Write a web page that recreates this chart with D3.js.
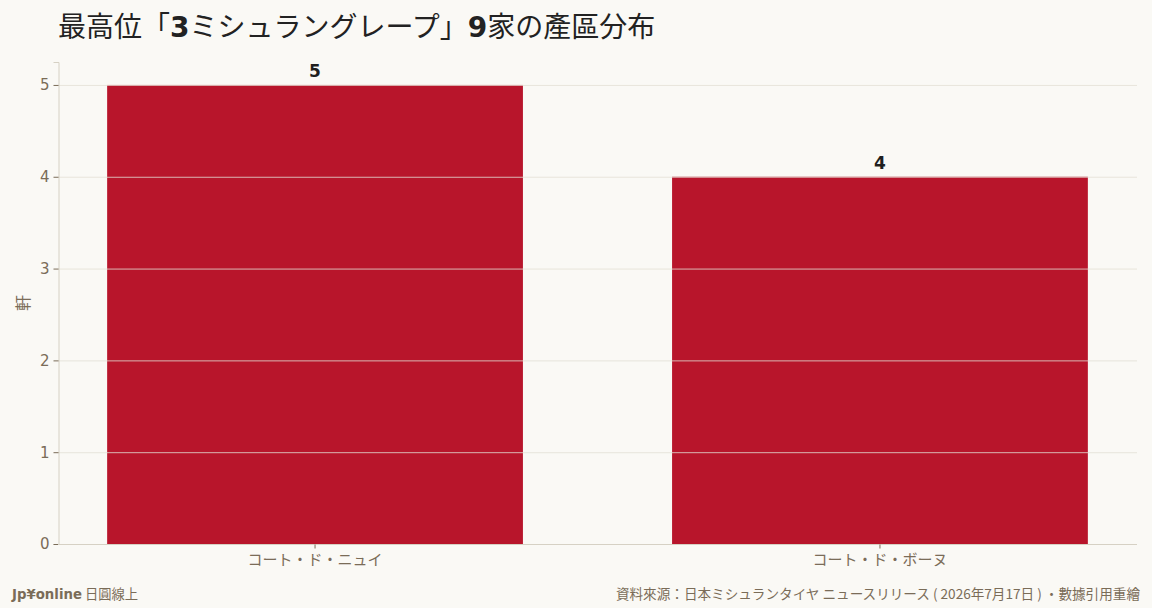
<!DOCTYPE html>
<html><head><meta charset="utf-8">
<script src="https://cdn.jsdelivr.net/npm/d3@7"></script>
<style>
html,body{margin:0;padding:0;background:#faf9f5;}
svg{display:block;font-family:"DejaVu Sans","Noto Sans CJK JP",sans-serif;}
</style></head>
<body>
<svg id="c" width="1152" height="608"></svg>
<script>
const categories = ["コート・ド・ニュイ", "コート・ド・ボーヌ"];
const values = [5, 4];
const yTicks = [0, 1, 2, 3, 4, 5];
const titleParts = [["最高位「", false], ["3", true], ["ミシュラングレープ」", false], ["9", true], ["家の產區分布", false]];
const yLabel = "軒";
const footLeftBold = "Jp¥online";
const footLeft = " 日圓線上";
const footRight = "資料來源：日本ミシュランタイヤ ニュースリリース ( 2026年7月17日 ) ・數據引用重繪";

const W = 1152, H = 608;
const m = {l: 58, r: 15, t: 62, b: 64};
const svg = d3.select("#c");
svg.append("rect").attr("width", W).attr("height", H).attr("fill", "#faf9f5");

const x = d3.scaleBand().domain(categories).range([m.l, W - m.r]).paddingInner(0.264).paddingOuter(0.087);
const y = d3.scaleLinear().domain([0, 5.25]).range([H - m.b, m.t]);

const txtCol = "#7a6c58";
const axisCol = "#d6d1c4";

// bars
svg.append("g").selectAll("rect").data(values).join("rect")
  .attr("x", (d, i) => x(categories[i]))
  .attr("width", x.bandwidth())
  .attr("y", d => y(d))
  .attr("height", d => y(0) - y(d))
  .attr("fill", "#b8152b");

// grid (drawn above bars)
svg.append("g").selectAll("line").data(yTicks.filter(t => t > 0)).join("line")
  .attr("x1", m.l).attr("x2", W - m.r)
  .attr("y1", d => y(d) + 0.5).attr("y2", d => y(d) + 0.5)
  .attr("stroke", "#e3e0d6").attr("stroke-opacity", 0.8).attr("stroke-width", 1);

// y axis
const ya = svg.append("g").attr("transform", `translate(${m.l + 0.5},0)`)
  .call(d3.axisLeft(y).tickValues(yTicks).tickFormat(d3.format("d")).tickSize(5).tickPadding(4));
ya.select(".domain").attr("stroke", axisCol);
ya.selectAll(".tick line").attr("stroke", txtCol);
ya.selectAll(".tick text").attr("fill", txtCol).attr("font-size", 15).attr("font-family", "DejaVu Sans");

// x axis
const xa = svg.append("g").attr("transform", `translate(0,${y(0) + 0.5})`)
  .call(d3.axisBottom(x).tickSize(4).tickPadding(6));
xa.select(".domain").attr("stroke", axisCol).attr("d", `M${m.l},0H${W - m.r}`);
xa.selectAll(".tick line").attr("stroke", txtCol);
xa.selectAll(".tick text").attr("fill", txtCol).attr("font-size", 15).attr("font-family", "Noto Sans CJK JP");

// value labels
svg.append("g").selectAll("text").data(values).join("text")
  .attr("x", (d, i) => x(categories[i]) + x.bandwidth() / 2)
  .attr("y", d => y(d) - 8)
  .attr("text-anchor", "middle")
  .attr("font-size", 17).attr("font-weight", "bold").attr("fill", "#1f1f1f")
  .text(d => d);

// y label
svg.append("text").attr("transform", `translate(29,${(y(0) + m.t) / 2}) rotate(-90)`)
  .attr("text-anchor", "middle").attr("font-size", 16).attr("fill", txtCol)
  .attr("font-family", "Noto Sans CJK JP").text(yLabel);

// title
const t = svg.append("text").attr("x", 58).attr("y", 37).attr("font-size", 28).attr("fill", "#222")
  .attr("font-family", "Noto Sans CJK JP");
titleParts.forEach(([s, b]) => {
  t.append("tspan").text(s).attr("font-weight", b ? "bold" : "normal")
   .attr("font-family", b ? "DejaVu Sans" : "Noto Sans CJK JP");
});

// footer
const fl = svg.append("text").attr("x", 12).attr("y", 599).attr("font-size", 13.3).attr("fill", txtCol);
fl.append("tspan").text(footLeftBold).attr("font-weight", "bold").attr("font-family", "DejaVu Sans");
fl.append("tspan").text(footLeft).attr("font-family", "Noto Sans CJK JP");
svg.append("text").attr("x", 1140).attr("y", 599).attr("text-anchor", "end")
  .attr("font-size", 13.6).attr("fill", txtCol).attr("font-family", "Noto Sans CJK JP").text(footRight);
</script>
</body></html>
